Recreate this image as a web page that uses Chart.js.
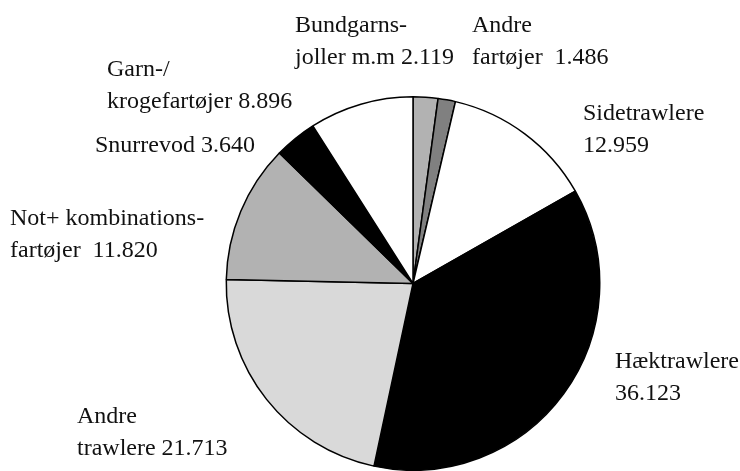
<!DOCTYPE html>
<html>
<head>
<meta charset="utf-8">
<script src="https://cdn.jsdelivr.net/npm/chart.js@4"></script>
<style>
  html, body { margin: 0; padding: 0; background: #fff; overflow: hidden; }
</style>
</head>
<body>
<canvas id="myChart" width="740" height="471"></canvas>
<script>
// fartøjstyper, med uret fra kl. 12
const kategorier = [
    ['Bundgarns-', 'joller m.m 2.119'],
    ['Andre', 'fartøjer  1.486'],
    ['Sidetrawlere', '12.959'],
    ['Hæktrawlere', '36.123'],
    ['Andre', 'trawlere 21.713'],
    ['Not+ kombinations-', 'fartøjer  11.820'],
    ['Snurrevod 3.640'],
    ['Garn-/', 'krogefartøjer 8.896']
];
const vaerdier = [2.119, 1.486, 12.959, 36.123, 21.713, 11.820, 3.640, 8.896];
const farver = ['#b2b2b2', '#808080', '#ffffff', '#000000', '#d9d9d9', '#b2b2b2', '#000000', '#ffffff'];

// hvor teksten står (venstre kant, grundlinje for første linje)
const tekstPlacering = [
    [295, 32], [472, 32], [583, 120], [615, 368],
    [77, 423], [10, 225], [95, 152], [107, 76]
];

const etiketPlugin = {
    id: 'etiketter',
    afterDraw(chart) {
        const ctx = chart.ctx;
        ctx.save();
        ctx.font = '24px "Liberation Serif", "Times New Roman", serif';
        ctx.fillStyle = '#111';
        ctx.textAlign = 'left';
        ctx.textBaseline = 'alphabetic';
        chart.data.labels.forEach(function (linjer, i) {
            const p = tekstPlacering[i];
            linjer.forEach(function (t, j) {
                ctx.fillText(t, p[0], p[1] + j * 31.5);
            });
        });
        ctx.restore();
    }
};

const data = {
    labels: kategorier,
    datasets: [{
        data: vaerdier,
        backgroundColor: farver,
        borderColor: '#000',
        borderWidth: 1.5
    }]
};

const config = {
    type: 'pie',
    data: data,
    options: {
        responsive: false,
        animation: false,
        layout: { padding: { left: 225, right: 139, top: 96, bottom: -1 } },
        plugins: {
            legend: { display: false },
            tooltip: { enabled: false }
        }
    },
    plugins: [etiketPlugin]
};

var myChart = new Chart(document.getElementById('myChart'), config);
</script>
</body>
</html>
